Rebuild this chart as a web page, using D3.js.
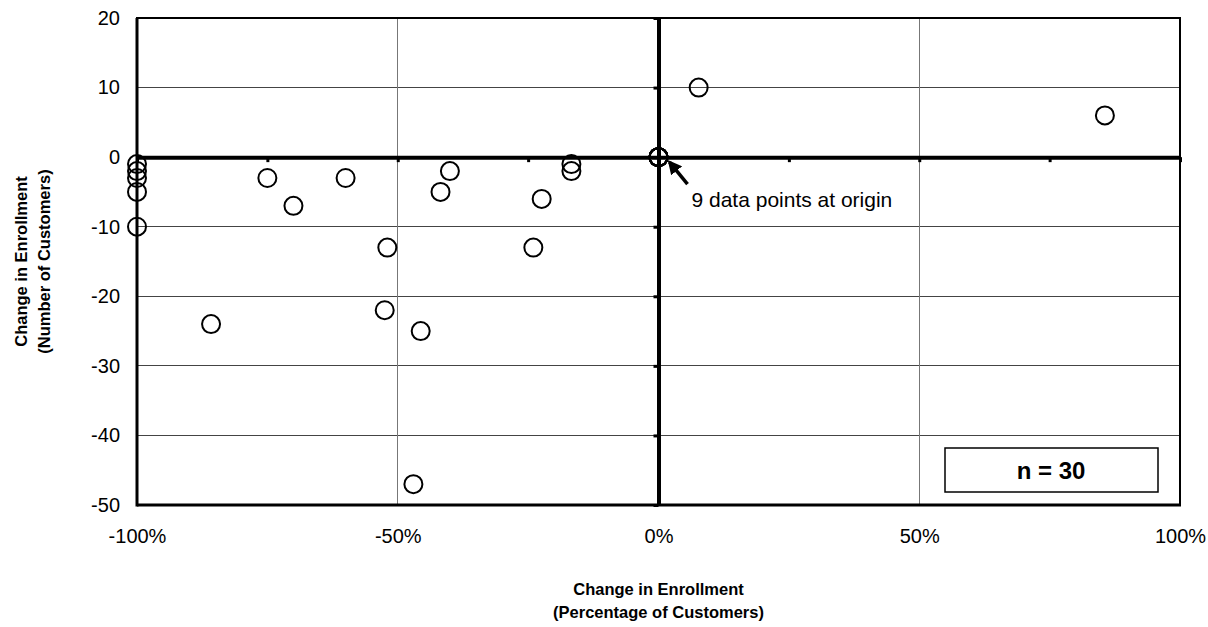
<!DOCTYPE html>
<html><head><meta charset="utf-8">
<script src="https://cdn.jsdelivr.net/npm/d3@7"></script>
<style>
html,body{margin:0;padding:0;background:#fff;}
text{font-family:"Liberation Sans",Arial,sans-serif;}
</style></head>
<body>
<svg id="chart" width="1208" height="627"></svg>
<script>
// Data: change in enrollment, percentage (x) and number of customers (y)
const pctChange = [-100,-100,-100,-100,-100,-85.8,-75,-70,-60,-52,-52.5,-45.6,-47,-41.8,-40,-24,-22.4,-16.7,-16.7,0,0,0,0,0,0,0,0,0,7.7,85.6];
const numChange = [-1,-2,-3,-5,-10,-24,-3,-7,-3,-13,-22,-25,-47,-5,-2,-13,-6,-1,-2,0,0,0,0,0,0,0,0,0,10,6];
const xTickValues = [-100,-50,0,50,100];
const yTickValues = [20,10,0,-10,-20,-30,-40,-50];
const xMinorTicks = [-100,-75,-50,-25,0,25,50,75,100];
const xTitle = ["Change in Enrollment","(Percentage of Customers)"];
const yTitle = ["Change in Enrollment","(Number of Customers)"];
const annotation = "9 data points at origin";
const nLabel = "n = 30";

const svg = d3.select("#chart");
const L=137, R=1180, T=18, B=505;
const x = d3.scaleLinear().domain([-100,100]).range([L,R]);
const y = d3.scaleLinear().domain([-50,20]).range([B,T]);

// gridlines
svg.append("g").selectAll("line").data(yTickValues).join("line")
  .attr("x1",L).attr("x2",R).attr("y1",d=>y(d)).attr("y2",d=>y(d))
  .attr("stroke","#444").attr("stroke-width",1).attr("shape-rendering","crispEdges");
svg.append("g").selectAll("line").data(xTickValues).join("line")
  .attr("y1",T).attr("y2",B).attr("x1",d=>x(d)).attr("x2",d=>x(d))
  .attr("stroke","#777").attr("stroke-width",1).attr("shape-rendering","crispEdges");

// plot border
svg.append("rect").attr("x",L).attr("y",T).attr("width",R-L).attr("height",B-T)
  .attr("fill","none").attr("stroke","#000").attr("stroke-width",2);
svg.append("line").attr("x1",L).attr("x2",L).attr("y1",T).attr("y2",B+1.5).attr("stroke","#000").attr("stroke-width",3);
svg.append("line").attr("x1",L).attr("x2",R+1).attr("y1",B).attr("y2",B).attr("stroke","#000").attr("stroke-width",3);

// zero axes (thick) with small ticks
const xZero = svg.append("g").attr("transform",`translate(0,${y(0)})`)
  .call(d3.axisBottom(x).tickValues(xMinorTicks).tickSize(5).tickSizeOuter(0).tickFormat(""));
xZero.select(".domain").attr("stroke","#000").attr("stroke-width",4);
xZero.selectAll(".tick line").attr("stroke","#000").attr("stroke-width",3);
const yZero = svg.append("g").attr("transform",`translate(${x(0)},0)`)
  .call(d3.axisLeft(y).tickValues(yTickValues).tickSize(5).tickSizeOuter(0).tickFormat(""));
yZero.select(".domain").attr("stroke","#000").attr("stroke-width",4);
yZero.selectAll(".tick line").attr("stroke","#000").attr("stroke-width",3);

// tick labels
const xLab = svg.append("g").attr("transform",`translate(0,${B})`)
  .call(d3.axisBottom(x).tickValues(xTickValues).tickSize(0).tickPadding(24).tickFormat(d=>d+"%"));
xLab.select(".domain").remove();
xLab.selectAll("text").attr("font-size",20).attr("fill","#000").attr("font-family","Liberation Sans, Arial, sans-serif");
const yLab = svg.append("g").attr("transform",`translate(${L},0)`)
  .call(d3.axisLeft(y).tickValues(yTickValues).tickSize(0).tickPadding(17).tickFormat(d=>d));
yLab.select(".domain").remove();
yLab.selectAll("text").attr("font-size",20).attr("fill","#000").attr("font-family","Liberation Sans, Arial, sans-serif");

// points
svg.append("g").selectAll("circle").data(pctChange.map((p,i)=>[p,numChange[i]])).join("circle")
  .attr("cx",d=>x(d[0])).attr("cy",d=>y(d[1])).attr("r",9)
  .attr("fill","none").attr("stroke","#000").attr("stroke-width",2);

// axis titles
svg.append("text").attr("x",(L+R)/2).attr("y",595).attr("text-anchor","middle")
  .attr("font-size",16.5).attr("font-weight","bold").text(xTitle[0]);
svg.append("text").attr("x",(L+R)/2).attr("y",618).attr("text-anchor","middle")
  .attr("font-size",16.5).attr("font-weight","bold").text(xTitle[1]);
const yt = svg.append("g").attr("transform",`translate(27,${(T+B)/2}) rotate(-90)`);
yt.append("text").attr("x",0).attr("y",0).attr("text-anchor","middle")
  .attr("font-size",16.5).attr("font-weight","bold").text(yTitle[0]);
yt.append("text").attr("x",0).attr("y",23).attr("text-anchor","middle")
  .attr("font-size",16.5).attr("font-weight","bold").text(yTitle[1]);

// annotation arrow
svg.append("defs").append("marker").attr("id","ah").attr("viewBox","0 0 10 10")
  .attr("refX",8).attr("refY",5).attr("markerWidth",4).attr("markerHeight",4).attr("orient","auto")
  .append("path").attr("d","M0,0 L10,5 L0,10 z").attr("fill","#000");
svg.append("line").attr("x1",x(0)+29).attr("y1",y(0)+27).attr("x2",x(0)+11).attr("y2",y(0)+5)
  .attr("stroke","#000").attr("stroke-width",3.5).attr("marker-end","url(#ah)");
svg.append("text").attr("x",x(0)+33).attr("y",y(0)+50).attr("font-size",21).text(annotation);

// n box
svg.append("rect").attr("x",945).attr("y",448).attr("width",213).attr("height",44)
  .attr("fill","#fff").attr("stroke","#000").attr("stroke-width",1.5);
svg.append("text").attr("x",1051).attr("y",479).attr("text-anchor","middle")
  .attr("font-size",24).attr("font-weight","bold").text(nLabel);
</script>
</body></html>
